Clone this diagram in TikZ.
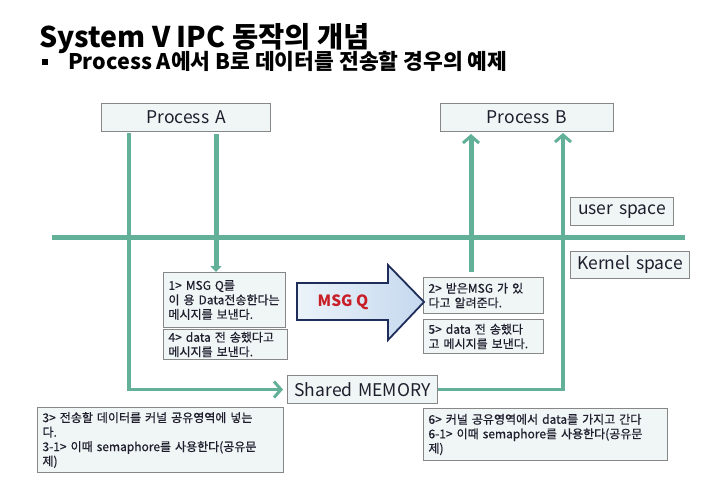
\documentclass[tikz,border=0pt]{standalone}
\usepackage{fontspec}
\setmainfont{Noto Sans CJK KR}
\newfontfamily\notefont{Noto Sans CJK KR}[FakeBold=0.6]
\usetikzlibrary{arrows.meta}
\definecolor{tealline}{RGB}{98,176,152}
\definecolor{boxfill}{RGB}{240,246,246}
\definecolor{boxline}{RGB}{135,135,135}
\definecolor{navy}{RGB}{31,45,90}
\definecolor{msgred}{RGB}{200,30,40}
\definecolor{txt}{RGB}{30,30,45}
\definecolor{arrowL}{RGB}{236,243,250}
\definecolor{arrowR}{RGB}{196,216,238}
\begin{document}
\begin{tikzpicture}[x=1pt,y=-1pt,
  note/.style={draw=boxline, line width=1pt, fill=boxfill, anchor=north west,
    inner xsep=5pt, inner ysep=0pt, align=left, text=txt,
    font=\notefont\fontsize{12}{14.5}\selectfont},
  label/.style={draw=boxline, line width=1pt, fill=boxfill, anchor=north west,
    inner xsep=0pt, inner ysep=0pt, align=center, text=txt},
  thickline/.style={draw=tealline, line width=5pt},
  thinline/.style={draw=tealline, line width=3.5pt},
  barb/.style={-{Straight Barb[length=7pt,width=16pt,line width=3pt]}}
]
\useasboundingbox[fill=white] (0,0) rectangle (713,490);

% titles
\node[anchor=base west, inner sep=0pt, font=\fontsize{28.5}{32}\selectfont\bfseries] (title) at (39,47) {System V IPC 동작의 개념};
\node[anchor=center, inner sep=0pt, fill=black, minimum size=6pt] (bullet) at (45,62) {};
\node[anchor=base west, inner sep=0pt, font=\fontsize{21.5}{24}\selectfont\bfseries] (subtitle) at (68,69) {Process A에서 B로 데이터를 전송할 경우의 예제};

% coordinates for connectors
\coordinate (hl) at (52,237);
\coordinate (hr) at (685,237);
\coordinate (ax1) at (129,0);
\coordinate (ax2) at (216,0);
\coordinate (bx1) at (471,0);
\coordinate (bx2) at (563,0);

% boxes
\node[label, minimum width=169pt, minimum height=28pt, text width=169pt, font=\fontsize{17.5}{20}\selectfont] (pa) at (101,103) {Process A};
\node[label, minimum width=173pt, minimum height=28pt, text width=173pt, font=\fontsize{17.5}{20}\selectfont] (pb) at (440,103) {Process B};
\node[label, minimum width=103pt, minimum height=28pt, text width=103pt, font=\fontsize{17.5}{20}\selectfont] (us) at (570,197) {user space};
\node[label, minimum width=119pt, minimum height=27pt, text width=119pt, font=\fontsize{17.5}{20}\selectfont] (ks) at (570,251) {Kernel space};
\node[label, minimum width=150pt, minimum height=28pt, text width=150pt, font=\fontsize{17.5}{20}\selectfont] (shm) at (287,375) {Shared MEMORY};

% lines (behind boxes)
\draw[thickline] (hl) -- (hr);
\draw[thinline, barb, shorten >=4pt] ([yshift=-1pt]pa.south -| ax1) |- (shm.west);
\draw[thinline, barb, shorten >=1pt] (shm.east) -| (pb.south -| bx2);

\node[note, minimum height=55pt, text width=112pt] (b1) at (163,272) {1> MSG Q를\\이 용 Data전송한다는\\메시지를 보낸다.};
\node[note, minimum height=30pt, text width=114pt] (b4) at (163,329) {4> data 전 송했다고\\메시지를 보낸다.};
\node[note, minimum height=36pt, text width=110pt] (b2) at (423,277) {2> 받은MSG 가 있\\다고 알려준다.};
\node[note, minimum height=34pt, text width=110pt] (b5) at (423,319) {5> data 전 송했다\\고 메시지를 보낸다.};
\node[note, minimum height=65pt, text width=236pt] (b3) at (37,407) {3> 전송할 데이터를 커널 공유영역에 넣는\\다.\\3-1> 이때 semaphore를 사용한다(공유문\\제)};
\node[note, minimum height=52pt, text width=234pt] (b6) at (423,408) {6> 커널 공유영역에서 data를 가지고 간다\\6-1> 이때 semaphore를 사용한다(공유문\\제)};

\draw[thickline, -{Triangle[length=6pt,width=11pt]}, shorten <=2pt] (pa.south -| ax2) -- (b1.north -| ax2);
\draw[thickline, barb, shorten <=5pt, shorten >=2pt] (b2.north -| bx1) -- (pb.south -| bx1);

% MSG Q arrow
\path[draw=navy, line width=1.8pt, line join=miter, left color=arrowL, right color=arrowR]
  (297,283) -- (388,283) -- (388,265) -- (424,302) -- (388,340) -- (388,320) -- (297,320) -- cycle;
\node[text=msgred, font=\fontsize{15.5}{18}\selectfont\bfseries] (msgq) at (343,302) {MSG Q};
\end{tikzpicture}
\end{document}
